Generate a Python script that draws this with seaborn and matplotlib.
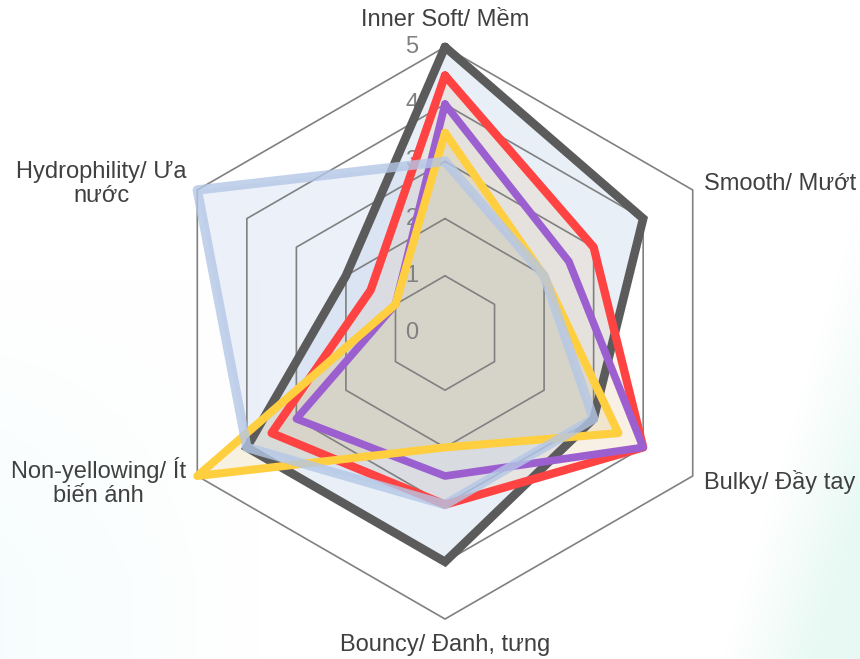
import numpy as np
import pandas as pd
import seaborn as sns
import matplotlib.pyplot as plt
from matplotlib.transforms import offset_copy

categories = ["Inner Soft/ Mềm", "Smooth/ Mướt", "Bulky/ Đầy tay",
              "Bouncy/ Đanh, tưng", "Non-yellowing/ Ít\nbiến ánh", "Hydrophility/ Ưa\nnước"]
dark_vals = [5, 4, 3, 4, 4, 2]
red_vals = [4.5, 3, 4, 3, 3.5, 1.5]
purple_vals = [4, 2.5, 4, 2.5, 3, 1]
yellow_vals = [3.5, 2, 3.5, 2, 5, 1]
blue_vals = [3, 2, 3, 3, 4, 5]
ticks = [0, 1, 2, 3, 4, 5]

sns.set_theme(style="white")
plt.rcParams['font.family'] = ['Liberation Sans', 'DejaVu Sans']

fig = plt.figure(figsize=(8.6, 6.59), dpi=100)

# faint background tint like the slide behind the chart
h, w = 659, 860
yy, xx = np.mgrid[0:h, 0:w]
w1 = np.clip(1 - xx / 260, 0, 1) * np.clip((yy - 280) / 300, 0, 1) * 0.16
w2 = np.clip((xx + 0.3 * yy - 920) / 90, 0, 1) * 0.32
img = np.ones((h, w, 3))
img = img * (1 - w1[..., None]) + np.array([0.80, 0.95, 0.96]) * w1[..., None]
img = img * (1 - w2[..., None]) + np.array([0.72, 0.93, 0.86]) * w2[..., None]
bg = fig.add_axes([0, 0, 1, 1], zorder=0)
bg.imshow(img, aspect='auto')
bg.axis('off')

ax = fig.add_axes([0.1649, 0.0346, 0.7051, 0.9202], projection='polar', zorder=1)
ax.set_facecolor('none')
ax.set_theta_zero_location('N')
ax.set_theta_direction(-1)
ax.set_ylim(0, 5.3)
ax.axis('off')

theta = np.linspace(0, 2 * np.pi, len(categories) + 1)

# hexagonal grid, drawn over the fills
for k in ticks[1:]:
    ax.plot(theta, [k] * len(theta), color='#808080', lw=1.2, zorder=2.6)

# name, values, line colour, width, fill colour, fill alpha, join, line alpha
series = [
    ("Dark", dark_vals, '#5b5b5b', 6.2, '#d6e3f2', 0.55, 'miter', 1.0),
    ("Red", red_vals, '#ff4343', 6.0, '#e5a965', 0.15, 'round', 1.0),
    ("Purple", purple_vals, '#9c5fcf', 5.5, '#c8beb4', 0.05, 'round', 1.0),
    ("Yellow", yellow_vals, '#ffcf40', 5.8, '#cfac46', 0.15, 'round', 1.0),
    ("Blue", blue_vals, '#b4c7e7', 6.8, '#b4c7e7', 0.25, 'round', 0.8),
]

fill_order = [0, 1, 2, 4, 3]
for i in fill_order:
    name, vals, color, lw, fcol, falpha, join, la = series[i]
    r = vals + vals[:1]
    ax.fill(theta, r, color=fcol, alpha=falpha, lw=0, zorder=2)

for i, (name, vals, color, lw, fcol, falpha, join, la) in enumerate(series):
    r = vals + vals[:1]
    df = pd.DataFrame({"theta": theta, "r": r})
    sns.lineplot(data=df, x="theta", y="r", sort=False, estimator=None, ax=ax,
                 color=color, lw=lw, alpha=la, zorder=3 + i,
                 solid_joinstyle=join, solid_capstyle='round')

# radial tick labels
tick_tr = offset_copy(ax.transData, fig=fig, x=-33, y=0, units='dots')
for k in ticks:
    ax.text(0, k, str(k), transform=tick_tr, ha='center', va='center',
            fontsize=17, color='#808080', zorder=2.7)

# category labels
lab = dict(fontsize=17, color='#404040')
ax.text(theta[0], 5.47, categories[0], ha='center', va='center', **lab)
ax.text(theta[1], 5.22, categories[1], ha='left', va='center', **lab)
ax.text(theta[2], 5.22, categories[2], ha='left', va='center', **lab)
ax.text(theta[3], 5.45, categories[3], ha='center', va='center', **lab)
ax.text(theta[4], 5.22, categories[4], ha='right', va='center', multialignment='center',
        linespacing=1.12, **lab)
ax.text(theta[5], 5.22, categories[5], ha='right', va='center', multialignment='center',
        linespacing=1.12, **lab)

fig.savefig('out.png', dpi=100)
